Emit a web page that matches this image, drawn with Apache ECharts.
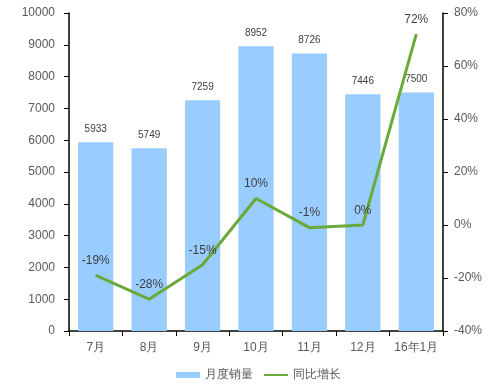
<!DOCTYPE html>
<html><head><meta charset="utf-8">
<script src="https://cdn.jsdelivr.net/npm/echarts@6/dist/echarts.min.js"></script>
<style>html,body{margin:0;padding:0;background:#fff}#c{width:497px;height:384px}</style>
</head><body><div id="c"></div>
<script>
const categories = ['7月','8月','9月','10月','11月','12月','16年1月'];
const sales = [5933, 5749, 7259, 8952, 8726, 7446, 7500];
const growth = [-19, -28, -15, 10, -1, 0, 72];
const leftTicks = [0, 10000, 1000];
const rightTicks = [-40, 80, 20];

const chart = echarts.init(document.getElementById('c'));
const font = 'Liberation Sans, Arial, sans-serif';
chart.setOption({
  animation: false,
  textStyle: {fontFamily: font},
  grid: {left: 69, right: 54, top: 13, bottom: 53},
  legend: {
    top: 364, left: 171, itemGap: 10, itemWidth: 24, itemHeight: 6,
    textStyle: {fontSize: 12, color: '#595959', fontFamily: font},
    data: [{name: '月度销量', icon: 'rect'}, {name: '同比增长', itemStyle: {opacity: 0}}]
  },
  xAxis: {
    type: 'category', data: categories,
    axisLine: {lineStyle: {color: '#000', width: 1.5}},
    axisTick: {show: true, length: 5, lineStyle: {color: '#000'}},
    axisLabel: {color: '#595959', fontSize: 12, margin: 11, interval: 0}
  },
  yAxis: [{
    type: 'value', min: leftTicks[0], max: leftTicks[1], interval: leftTicks[2],
    splitLine: {show: false},
    axisLine: {show: true, lineStyle: {color: '#000', width: 1.5}},
    axisTick: {show: true, length: 5, lineStyle: {color: '#000'}},
    axisLabel: {color: '#595959', fontSize: 12, margin: 14, formatter: v => String(v)}
  }, {
    type: 'value', min: rightTicks[0], max: rightTicks[1], interval: rightTicks[2],
    splitLine: {show: false},
    axisLine: {show: true, lineStyle: {color: '#000', width: 1.5}},
    axisTick: {show: true, length: 5, lineStyle: {color: '#000'}},
    axisLabel: {color: '#595959', fontSize: 12, margin: 11, formatter: '{value}%'}
  }],
  series: [{
    name: '月度销量', type: 'bar', data: sales, barWidth: '66%',
    itemStyle: {color: '#99CCFF'},
    label: {show: true, position: 'top', color: '#404040', fontSize: 10, distance: 8}
  }, {
    name: '同比增长', type: 'line', yAxisIndex: 1, data: growth,
    symbol: 'circle', symbolSize: 1, showSymbol: true,
    lineStyle: {color: '#6AAA3A', width: 3}, itemStyle: {color: '#6AAA3A'},
    label: {show: true, position: 'top', color: '#404040', fontSize: 12, distance: 8, formatter: '{c}%'}
  }]
});
</script></body></html>
